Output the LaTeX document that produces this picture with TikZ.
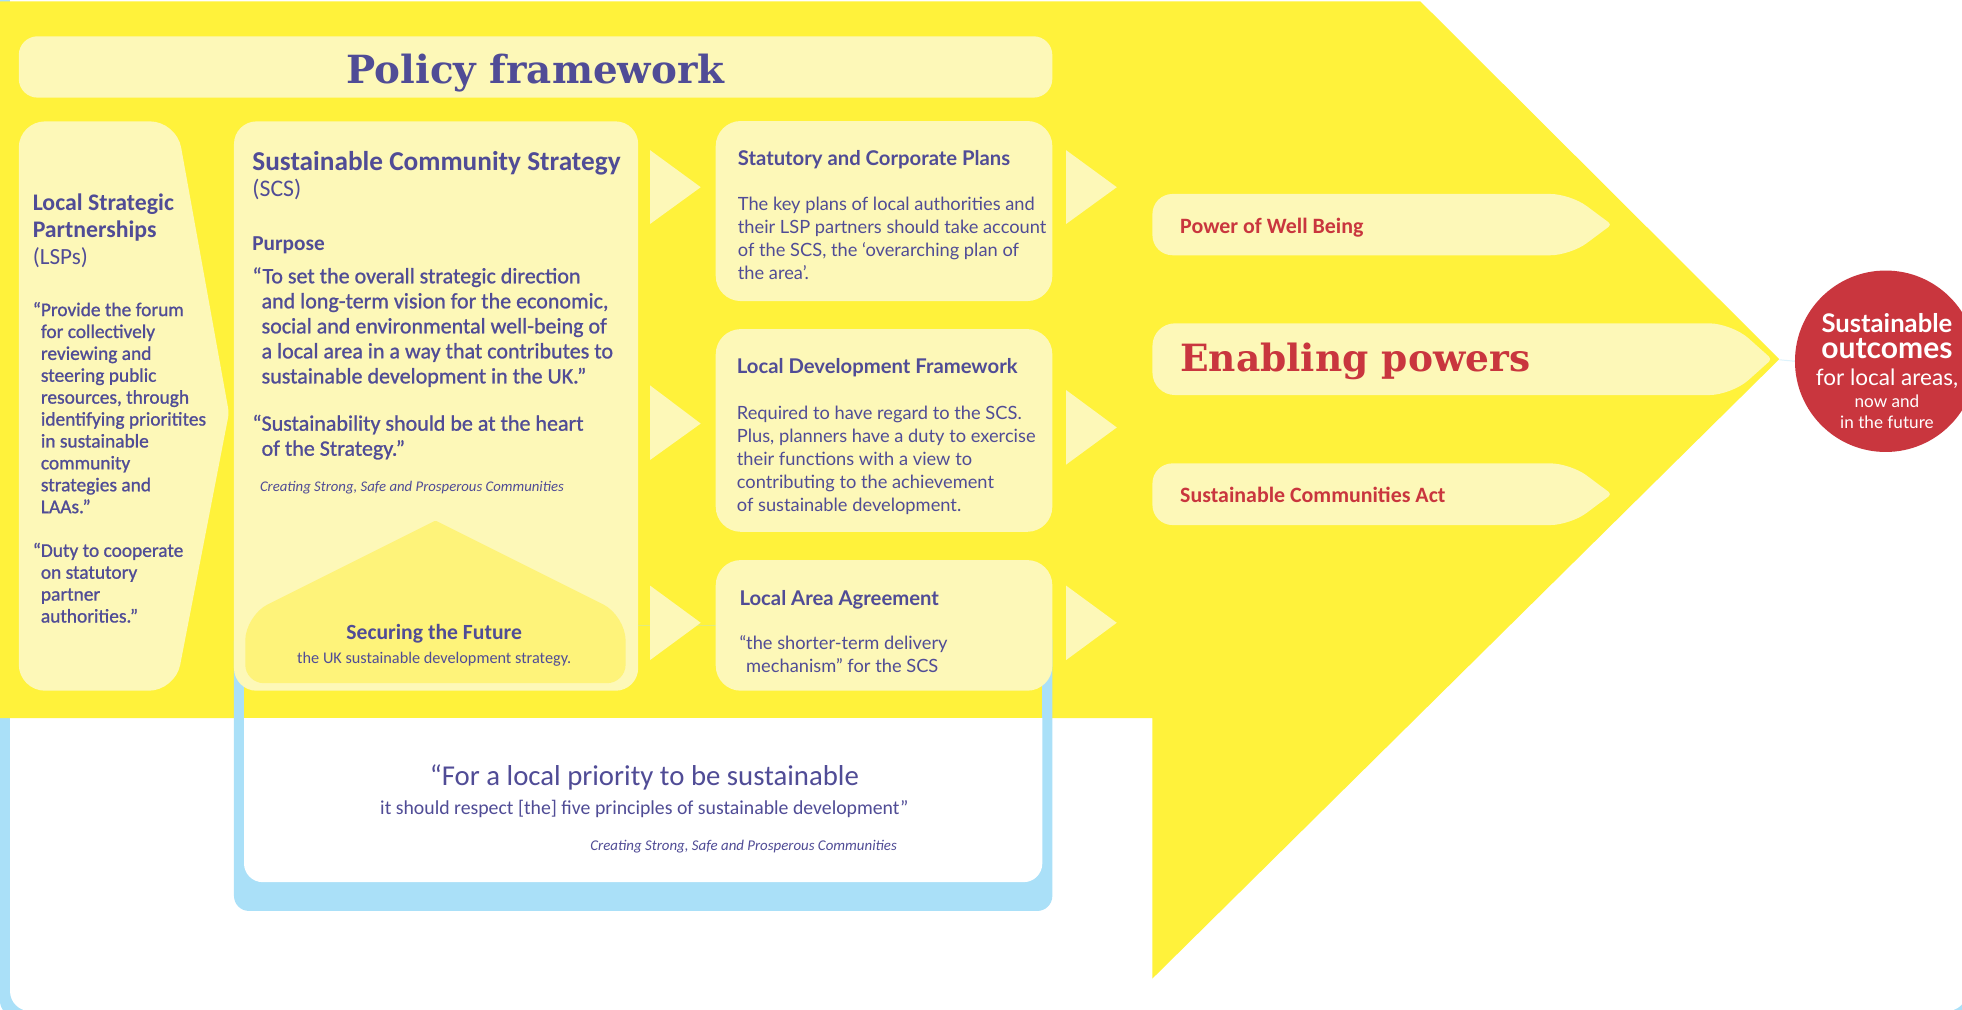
\documentclass[tikz,border=0pt]{standalone}
\usepackage{fontspec}
\setmainfont{Carlito}
\newfontfamily\cond{Carlito}
\newfontfamily\condmed{Carlito}[FakeBold=1]
\newfontfamily\lato{Lato}
\newfontfamily\slab{DejaVu Serif}
\definecolor{ybright}{RGB}{255,242,59}
\definecolor{ypale}{RGB}{253,248,184}
\definecolor{ymid}{RGB}{254,243,122}
\definecolor{purp}{RGB}{80,76,150}
\definecolor{redc}{RGB}{201,54,62}
\definecolor{lblue}{RGB}{170,224,248}
\newcommand{\fs}[2]{\fontsize{#1}{#2}\selectfont}
\newcommand{\qi}{\hphantom{“}}
\newcommand{\tbox}[2]{\parbox[t]{#1}{\raggedright #2}}
\tikzset{
  txt/.style={text=purp, inner sep=0pt, font=\cond},
  rtxt/.style={text=redc, inner sep=0pt, font=\cond},
  wtxt/.style={text=white, inner sep=0pt, font=\lato},
  pale/.style={fill=ypale},
  tri/.style={fill=ypale},
}
\begin{document}
\begin{tikzpicture}[x=1pt,y=-1pt]
\useasboundingbox (0,0) rectangle (1568,807);
% outer frame
\fill[lblue, rounded corners=12] (0,-50) rectangle (1600,812);
\fill[white, rounded corners=16] (8,-50) rectangle (1572,808);
% big yellow field with chevron
\fill[ybright] (0,1) -- (1135,1) -- (1422,287) -- (921,782) -- (921,574) -- (0,574) -- cycle;
% lower blue framed box
\fill[lblue, rounded corners=12] (187,500) rectangle (841,728);
\fill[ybright] (195,500) rectangle (833,574);
\fill[white] (195,574) -- (833,574) [rounded corners=15] -- (833,705) -- (195,705) [sharp corners] -- cycle;
% policy framework bar
\fill[pale, rounded corners=15] (15,29) rectangle (841,78);
% LSP shape
\fill[pale] (80,97) [rounded corners=21] -- (141,97) [rounded corners=4] -- (183,330) [rounded corners=21] -- (140,552) -- (15,552) -- (15,97) -- cycle;
% SCS box
\fill[pale, rounded corners=18] (187,97) rectangle (510,552);
% Securing the future pentagon
\fill[ymid] (348,546) [rounded corners=15] -- (196,546) [rounded corners=20] -- (196,492) [rounded corners=1] -- (348,416) [rounded corners=20] -- (500,492) [rounded corners=15] -- (500,546) -- cycle;
% triangles left
\fill[tri] (519.5,120) -- (560,149.6) -- (519.5,179) -- cycle;
\fill[tri] (519.5,308) -- (560,338.5) -- (519.5,367.6) -- cycle;
\fill[tri] (519.5,468) -- (560,497.7) -- (519.5,527.5) -- cycle;
% triangles right
\fill[tri] (852,120) -- (892.5,149.6) -- (852,179) -- cycle;
\fill[tri] (852,311.7) -- (892.5,341.6) -- (852,371.3) -- cycle;
\fill[tri] (852,468) -- (892.5,497.7) -- (852,527.5) -- cycle;
% right column boxes
\fill[pale, rounded corners=20] (572,96.7) rectangle (841,240.6);
\fill[pale, rounded corners=20] (572,263) rectangle (841,425);
\fill[pale, rounded corners=20] (572,447.6) rectangle (841,552);
% enabling arrows
\fill[pale] (921,179.5) [rounded corners=16] -- (921,155) -- (1255,155) [rounded corners=3] -- (1288,179.5) [rounded corners=16] -- (1255,204) -- (921,204) [sharp corners] -- cycle;
\fill[pale] (921,287) [rounded corners=18] -- (921,258.4) -- (1384,258.4) [rounded corners=3] -- (1416,287) [rounded corners=18] -- (1384,315.7) -- (921,315.7) [sharp corners] -- cycle;
\fill[pale] (921,394.9) [rounded corners=16] -- (921,370.3) -- (1255,370.3) [rounded corners=3] -- (1288,394.9) [rounded corners=16] -- (1255,419.6) -- (921,419.6) [sharp corners] -- cycle;
% outcome circle
\coordinate (eptip) at (1422,287.5);
\node[circle, fill=redc, minimum size=145pt, inner sep=0pt] (outc) at (1507,288.7) {};
\draw[line width=0.8pt, color=lblue!40] (eptip) -- (outc.west);

% ---------- texts ----------
\node[txt, anchor=base, font=\slab\bfseries\fs{31}{31}] (pf) at (428,66.6) {Policy framework};

\node[txt, anchor=base west, font=\cond\bfseries\fs{19}{21.3}] (lsp1) at (26,168.4) {Local Strategic};
\node[txt, anchor=base west, font=\cond\bfseries\fs{19}{21.3}] (lsp2) at (26,189.7) {Partnerships};
\node[txt, anchor=base west, font=\cond\fs{18.5}{21.3}] (lsp3) at (26,211) {(LSPs)};
\node[txt, anchor=base west] (lspq1) at (26,252.6) {\tbox{200pt}{\condmed\fs{15.5}{17.5}“Provide the forum\\\qi for collectively\\\qi reviewing and\\\qi steering public\\\qi resources, through\\\qi identifying prioritites\\\qi in sustainable\\\qi community\\\qi strategies and\\\qi LAAs.”}};
\node[txt, anchor=base west] (lspq2) at (26,445) {\tbox{200pt}{\condmed\fs{15.5}{17.5}“Duty to cooperate\\\qi on statutory\\\qi partner\\\qi authorities.”}};

\node[txt, anchor=base west, font=\cond\bfseries\fs{21.8}{24}] (scs1) at (201.5,135.9) {Sustainable Community Strategy};
\node[txt, anchor=base west, font=\cond\fs{19}{21}] (scs2) at (201.5,157.2) {(SCS)};
\node[txt, anchor=base west, font=\cond\bfseries\fs{17}{20}] (purp) at (201.5,200.3) {Purpose};
\node[txt, anchor=base west] (scsq1) at (201.5,226.4) {\tbox{400pt}{\condmed\fs{17.6}{20}“To set the overall strategic direction\\\qi and long-term vision for the economic,\\\qi social and environmental well-being of\\\qi a local area in a way that contributes to\\\qi sustainable development in the UK.”}};
\node[txt, anchor=base west] (scsq2) at (201.5,344.2) {\tbox{400pt}{\condmed\fs{17.6}{20}“Sustainability should be at the heart\\\qi of the Strategy.”}};
\node[txt, anchor=base west, font=\cond\itshape\fs{11.8}{14}] (cite1) at (207.6,393) {Creating Strong, Safe and Prosperous Communities};

\node[txt, anchor=base, font=\cond\bfseries\fs{17.3}{20}] (stf1) at (347,510.9) {Securing the Future};
\node[txt, anchor=base, font=\cond\fs{13}{15}] (stf2) at (347,530) {the UK sustainable development strategy.};

\node[txt, anchor=base west, font=\lato\bfseries\fs{16.2}{19}] (sc1) at (589.5,132.6) {Statutory and Corporate Plans};
\node[txt, anchor=base west] (sc2) at (589.5,168) {\tbox{300pt}{\lato\fs{14.6}{18.5}The key plans of local authorities and\\their LSP partners should take account\\of the SCS, the ‘overarching plan of\\the area’.}};
\node[txt, anchor=base west, font=\lato\bfseries\fs{16.2}{19}] (ldf1) at (588.7,298.7) {Local Development Framework};
\node[txt, anchor=base west] (ldf2) at (588.7,335.5) {\tbox{300pt}{\lato\fs{14.6}{18.3}Required to have regard to the SCS.\\Plus, planners have a duty to exercise\\their functions with a view to\\contributing to the achievement\\of sustainable development.}};
\node[txt, anchor=base west, font=\lato\bfseries\fs{16.2}{19}] (laa1) at (590.8,484) {Local Area Agreement};
\node[txt, anchor=base west] (laa2) at (590.8,519) {\tbox{300pt}{\lato\fs{14.6}{18.3}“the shorter-term delivery\\\qi mechanism” for the SCS}};

\node[txt, anchor=base, font=\cond\fs{23}{25}] (lq1) at (515,627.4) {“For a local priority to be sustainable};
\node[txt, anchor=base, font=\cond\fs{15.8}{18}] (lq2) at (515,651.3) {it should respect [the] five principles of sustainable development”};
\node[txt, anchor=base east, font=\cond\itshape\fs{11.9}{14}] (cite2) at (717,679.3) {Creating Strong, Safe and Prosperous Communities};

\node[rtxt, anchor=base west, font=\cond\bfseries\fs{17.5}{20}] (pwb) at (943,187) {Power of Well Being};
\node[rtxt, anchor=base west, font=\slab\bfseries\fs{30}{32}] (ep) at (943,297) {Enabling powers};
\node[rtxt, anchor=base west, font=\cond\bfseries\fs{17.5}{20}] (sca) at (943,401.7) {Sustainable Communities Act};

\node[wtxt, anchor=base, font=\lato\bfseries\fs{20.5}{22}] (o1) at (1508,265.9) {Sustainable};
\node[wtxt, anchor=base, font=\lato\bfseries\fs{24}{26}] (o2) at (1508,286.7) {outcomes};
\node[wtxt, anchor=base, font=\lato\fs{18}{20}] (o3) at (1508,307.7) {for local areas,};
\node[wtxt, anchor=base, font=\lato\fs{13.7}{15}] (o4) at (1508,325.8) {now and};
\node[wtxt, anchor=base, font=\lato\fs{13.7}{15}] (o5) at (1508,342.3) {in the future};
\end{tikzpicture}
\end{document}
